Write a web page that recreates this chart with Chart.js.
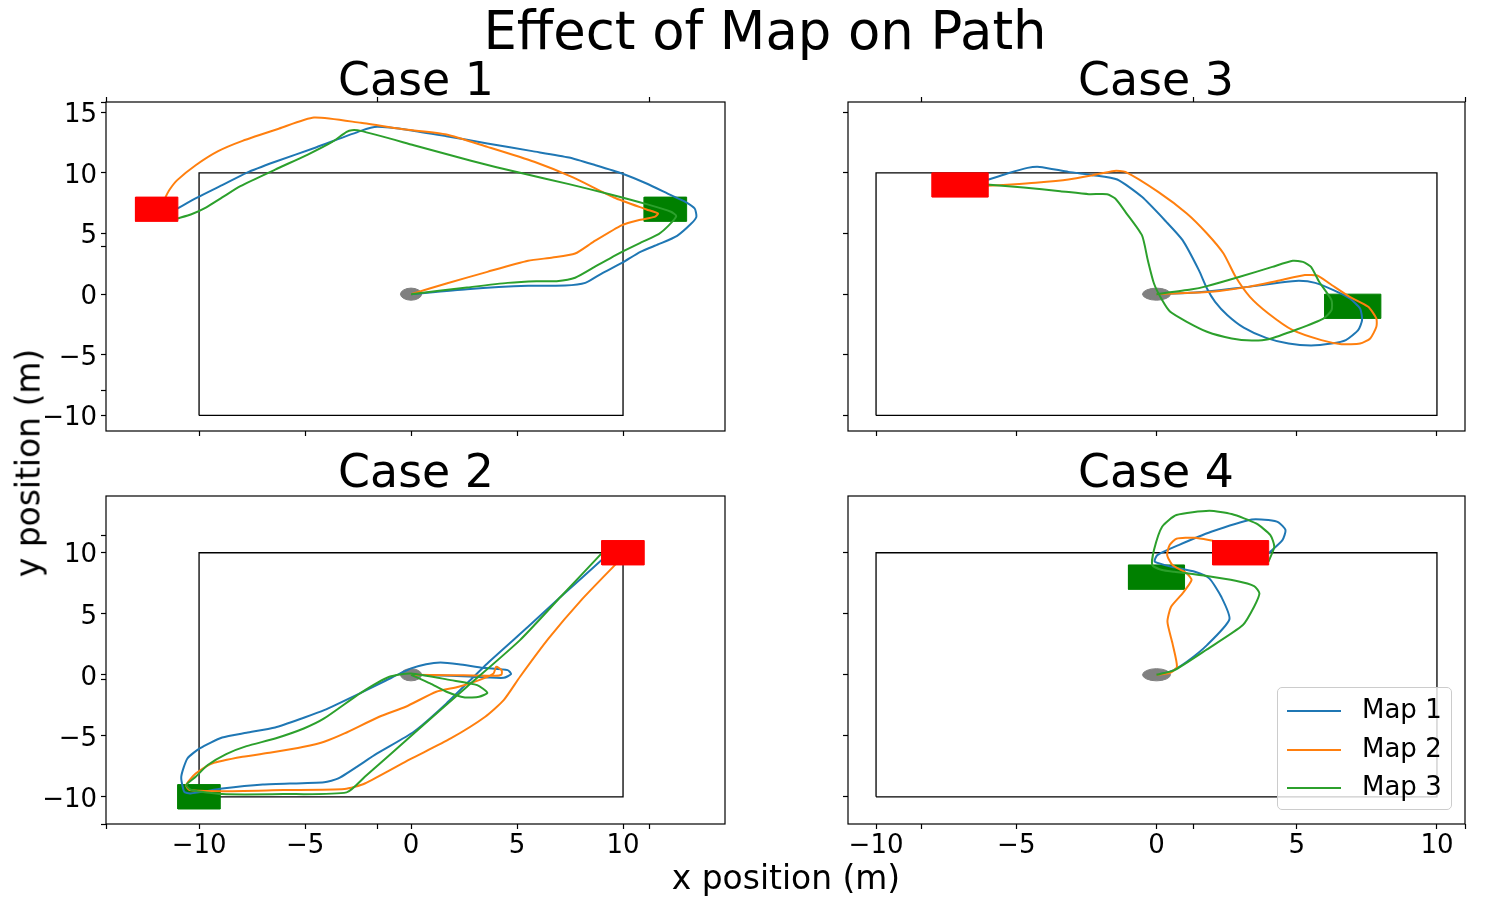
<!DOCTYPE html>
<html>
<head>
<meta charset="utf-8">
<title>Effect of Map on Path</title>
<script src="https://cdn.jsdelivr.net/npm/chart.js@4"></script>
<style>
  html, body { margin: 0; padding: 0; background: #fff; }
  body { position: relative; width: 1487px; height: 899px; overflow: hidden; font-family: "DejaVu Sans", sans-serif; color: #000; }
  canvas { position: absolute; }
  .txt { position: absolute; white-space: nowrap; line-height: 1; transform: translate(-50%, -50%); }
  #legend { position: absolute; left: 1277px; top: 687px; width: 175px; height: 123px; box-sizing: border-box;
            border: 1px solid #ccc; border-radius: 5px; background: rgba(255,255,255,0.8); }
  #legend .row { position: absolute; left: 0; font-size: 26px; line-height: 1; }
  #legend .swatch { position: absolute; left: 9px; width: 54px; height: 2px; }
  #legend .name { position: absolute; left: 84px; white-space: nowrap; }
</style>
</head>
<body>

<script>
const xTicks = [-10, -5, 0, 5, 10];
const yTicksTop = [-10, -5, 0, 5, 10, 15];
const yTicksBottom = [-10, -5, 0, 5, 10];
const overlayTicks = [0, 0.2, 0.4, 0.6, 0.8, 1];
const mapNames = ['Map 1', 'Map 2', 'Map 3'];
const mapColors = ['#1f77b4', '#ff7f0e', '#2ca02c'];

// arena outline and the start marker, in metres
const boundary = [[-10,-10],[10,-10],[10,10],[-10,10],[-10,-10]];
const startCircle = [[0.5,0],[0.46,0.19],[0.35,0.35],[0.19,0.46],[0,0.5],[-0.19,0.46],[-0.35,0.35],[-0.46,0.19],
  [-0.5,0],[-0.46,-0.19],[-0.35,-0.35],[-0.19,-0.46],[0,-0.5],[0.19,-0.46],[0.35,-0.35],[0.46,-0.19],[0.5,0]];

// goal / waypoint rectangles per case
const case1Red = [[-13,6],[-11,6],[-11,8],[-13,8],[-13,6]];
const case1Green = [[11,6],[13,6],[13,8],[11,8],[11,6]];
const case2Red = [[9,9],[11,9],[11,11],[9,11],[9,9]];
const case2Green = [[-11,-11],[-9,-11],[-9,-9],[-11,-9],[-11,-11]];
const case3Red = [[-8,8],[-6,8],[-6,10],[-8,10],[-8,8]];
const case3Green = [[6,-2],[8,-2],[8,0],[6,0],[6,-2]];
const case4Red = [[2,9],[4,9],[4,11],[2,11],[2,9]];
const case4Green = [[-1,7],[1,7],[1,9],[-1,9],[-1,7]];

// paths
const case1Map1 = [[0,0],[2.64,0.41],[5.52,0.69],[7.26,0.71],[8.22,0.93],[8.99,1.70],[9.95,2.58],[10.82,3.49],[11.68,4.12],[12.55,4.81],[13.22,5.82],[13.46,6.37],[13.38,7.06],[12.94,7.61],[12.26,8.16],[11.11,9.12],[9.95,9.95],[8.70,10.63],[7.45,11.26],[5.72,11.79],[3.60,12.42],[1.67,13.02],[-0.06,13.52],[-1.60,13.79],[-2.37,13.46],[-4.49,12.09],[-6.41,10.91],[-7.76,10.0],[-8.91,8.98],[-10.07,7.97],[-11.03,7.06]];
const case1Map2 = [[0,0],[1.67,0.88],[3.60,1.84],[5.52,2.75],[6.68,3.02],[7.74,3.35],[8.60,4.31],[9.95,5.69],[10.72,6.10],[11.49,6.37],[11.65,6.65],[11.11,6.98],[9.57,7.97],[7.64,9.62],[5.81,10.91],[3.60,12.14],[1.67,13.16],[-0.25,13.57],[-2.37,14.12],[-4.58,14.56],[-6.22,13.65],[-7.95,12.64],[-9.10,11.79],[-10.16,10.63],[-11.03,9.40],[-11.41,8.57],[-11.59,7.97]];
const case1Map3 = [[0,0],[2.64,0.55],[4.56,0.93],[5.91,1.07],[6.87,1.07],[7.74,1.35],[8.80,2.39],[9.95,3.49],[10.91,4.31],[11.68,4.95],[12.17,5.69],[12.51,6.43],[12.26,6.79],[11.11,7.42],[9.37,8.24],[7.45,9.07],[5.14,10.0],[2.83,10.99],[0.13,12.28],[-2.37,13.46],[-2.79,13.52],[-3.04,13.38],[-3.72,12.55],[-4.87,11.51],[-6.41,10.27],[-8.05,8.90],[-8.91,7.97],[-9.68,7.14],[-10.36,6.59],[-11.03,6.24]];

const case2Map1 = [[0,0],[1.87,-0.08],[3.60,-0.22],[4.37,-0.25],[4.72,0.05],[4.56,0.38],[3.41,0.57],[2.25,0.87],[1.39,1.01],[0.71,0.87],[0,0.52],[-1.21,-0.49],[-2.37,-1.48],[-4.10,-2.90],[-5.06,-3.52],[-6.41,-4.32],[-7.76,-4.75],[-8.91,-5.14],[-9.97,-6.04],[-10.55,-6.86],[-10.84,-8.36],[-10.70,-9.59],[-10.41,-9.73],[-8.91,-9.32],[-6.99,-8.99],[-4.10,-8.80],[-3.43,-8.50],[-1.60,-6.45],[0.13,-4.67],[1.67,-2.35],[3.60,0.93],[5.52,3.93],[7.06,6.39],[8.99,9.40]];
const case2Map2 = [[0,0],[1.87,-0.03],[3.98,-0.08],[4.27,0.03],[4.27,0.38],[4.02,0.66],[3.89,0.11],[3.21,-0.44],[2.25,-0.98],[1.19,-1.39],[-0.25,-2.62],[-1.50,-3.44],[-3.14,-4.81],[-4.10,-5.49],[-5.06,-5.90],[-6.60,-6.37],[-7.95,-6.72],[-9.39,-7.27],[-10.16,-8.09],[-10.61,-9.04],[-10.45,-9.45],[-8.91,-9.54],[-6.02,-9.45],[-3.14,-9.37],[-2.18,-8.91],[-0.06,-6.94],[1.87,-5.22],[3.50,-3.44],[4.37,-2.08],[5.14,-0.16],[6.49,2.98],[8.03,6.12],[9.66,9.07]];
const case2Map3 = [[0,0],[0.90,-0.71],[1.67,-1.39],[2.54,-1.86],[3.21,-1.80],[3.60,-1.48],[3.12,-0.85],[1.87,-0.44],[0,0.11],[-1.02,-0.16],[-2.37,-1.48],[-4.10,-3.58],[-5.06,-4.40],[-6.41,-5.22],[-7.76,-5.85],[-8.72,-6.50],[-9.59,-7.40],[-10.16,-8.36],[-10.61,-9.04],[-10.36,-9.45],[-8.91,-9.78],[-6.02,-9.78],[-3.04,-9.64],[-2.18,-8.36],[0.13,-4.81],[2.64,-0.98],[5.14,2.84],[7.06,6.39],[8.99,9.95]];

const case3Map1 = [[0,0],[1.22,0.11],[2.24,0.33],[3.26,0.60],[4.42,0.96],[5.08,1.10],[5.66,0.93],[6.31,0.33],[6.89,-0.36],[7.26,-1.18],[7.33,-2.14],[7.19,-2.97],[6.75,-3.79],[6.24,-4.07],[5.51,-4.23],[4.71,-4.07],[3.91,-3.60],[3.11,-2.75],[2.53,-1.73],[2.09,-0.63],[1.80,0.47],[1.51,1.98],[0.93,4.45],[0.35,5.96],[-0.52,8.02],[-1.40,9.45],[-2.27,9.81],[-3.14,10.08],[-4.16,10.49],[-4.60,10.41],[-5.32,9.95],[-6.05,9.40]];
const case3Map2 = [[0,0],[1.22,0.11],[2.24,0.27],[3.26,0.60],[4.42,1.15],[5.29,1.57],[5.73,1.54],[6.17,0.88],[6.89,-0.22],[7.55,-1.04],[7.84,-2.01],[7.84,-2.69],[7.62,-3.65],[7.26,-4.07],[6.60,-4.12],[5.88,-3.79],[4.86,-2.97],[3.99,-1.59],[3.33,-0.22],[2.82,1.43],[2.39,3.35],[1.80,5.0],[1.08,6.65],[0.06,8.43],[-1.11,10.08],[-1.51,10.16],[-2.27,9.81],[-3.14,9.45],[-4.31,9.18],[-5.18,9.04],[-6.05,8.93]];
const case3Map3 = [[0,0],[1.22,0.38],[1.80,0.66],[2.97,1.43],[4.13,2.25],[4.86,2.75],[5.22,2.66],[5.51,2.25],[5.80,1.02],[6.24,-0.49],[6.24,-1.32],[5.95,-2.01],[5.0,-2.91],[3.99,-3.71],[3.40,-3.82],[2.68,-3.65],[1.80,-3.10],[1.08,-2.28],[0.49,-1.46],[0.20,-0.49],[-0.09,0.88],[-0.31,2.80],[-0.52,4.86],[-1.11,6.79],[-1.47,7.88],[-1.76,8.24],[-2.41,8.24],[-3.43,8.49],[-4.74,8.79],[-6.05,9.04]];

const case4Map1 = [[0,0],[0.49,0.25],[1.08,1.07],[1.80,2.43],[2.60,4.54],[2.31,6.39],[1.88,7.90],[1.37,8.44],[0.64,8.80],[-0.06,9.26],[0.03,9.81],[0.79,10.63],[1.95,11.72],[3.40,12.73],[3.99,12.68],[4.35,12.49],[4.60,11.86],[4.49,11.04],[3.99,9.95]];
const case4Map2 = [[0,0],[0.49,0.16],[0.73,0.66],[0.57,2.57],[0.39,4.34],[0.52,5.57],[0.93,6.67],[1.25,7.76],[1.08,8.31],[0.57,8.99],[0.38,9.81],[0.47,10.63],[0.71,11.15],[1.37,11.23],[2.02,10.98]];
const case4Map3 = [[0,0],[0.64,0.38],[1.80,2.08],[3.08,4.07],[3.48,5.57],[3.67,6.67],[3.48,7.27],[2.82,7.70],[1.80,8.09],[0.64,8.44],[0.20,8.58],[-0.15,8.99],[-0.09,10.22],[0.20,12.13],[0.71,13.09],[1.88,13.44],[2.68,13.17],[3.55,12.40],[4.06,11.45],[4.20,10.49],[3.99,9.26]];

const toPoints = pairs => pairs.map(p => ({ x: p[0], y: p[1] }));
const minusSign = v => String(v).replace('-', '\u2212');

const PAD = 20, Y_W = 66, X_H = 46;

function addText(text, x, y, size, rotate) {
  const el = document.createElement('div');
  el.className = 'txt';
  el.textContent = text;
  el.style.left = x + 'px';
  el.style.top = y + 'px';
  el.style.fontSize = size + 'px';
  if (rotate) el.style.transform = 'translate(-50%, -50%) rotate(-90deg)';
  document.body.appendChild(el);
}

function addCanvas(left, top, width, height) {
  const c = document.createElement('canvas');
  c.width = width;
  c.height = height;
  c.style.left = left + 'px';
  c.style.top = top + 'px';
  c.style.width = width + 'px';
  c.style.height = height + 'px';
  document.body.appendChild(c);
  return c.getContext('2d');
}

// draws the box round the axes, chart.js only gives one side per scale
const framePlugin = {
  id: 'frame',
  afterDatasetsDraw(chart) {
    const a = chart.chartArea, ctx = chart.ctx;
    ctx.save();
    ctx.strokeStyle = '#000';
    ctx.lineWidth = 1.2;
    ctx.strokeRect(a.left, a.top, a.right - a.left, a.bottom - a.top);
    ctx.restore();
  }
};

function drawPanel(p) {
  const ctx = addCanvas(p.left - Y_W - PAD, p.top - PAD, p.width + Y_W + 2 * PAD, p.height + X_H + 2 * PAD);
  const shape = (pairs, color, order) => ({
    data: toPoints(pairs), showLine: true, pointRadius: 0, borderWidth: 1,
    borderColor: color, backgroundColor: color, fill: 'shape', tension: 0, order
  });
  const paths = p.paths.map((pairs, i) => ({
    label: mapNames[i], data: toPoints(pairs), showLine: true, pointRadius: 0, borderWidth: 2,
    borderColor: mapColors[i], fill: false, tension: 0.2, order: 3 - i
  }));
  new Chart(ctx, {
    type: 'scatter',
    data: {
      datasets: [
        { data: toPoints(boundary), showLine: true, pointRadius: 0, borderWidth: 1.3, borderColor: '#000', fill: false, order: 7 },
        shape(p.green, '#008000', 6),
        shape(startCircle, '#808080', 5),
        ...paths,
        shape(p.red, '#ff0000', 0)
      ]
    },
    options: {
      responsive: false,
      animation: false,
      events: [],
      layout: { padding: PAD },
      plugins: { legend: { display: false }, tooltip: { enabled: false } },
      scales: {
        x: {
          min: p.xMin, max: p.xMax,
          afterBuildTicks: s => { s.ticks = xTicks.map(v => ({ value: v })); },
          afterFit: s => { s.height = X_H; },
          grid: { drawOnChartArea: false, tickLength: 5, color: '#000', tickWidth: 1.2 },
          border: { display: false },
          ticks: { display: p.xLabels, color: '#000', font: { family: 'DejaVu Sans', size: 26 }, padding: 2, maxRotation: 0, autoSkip: false, callback: minusSign }
        },
        y: {
          min: p.yMin, max: p.yMax,
          afterBuildTicks: s => { s.ticks = p.yTicks.map(v => ({ value: v })); },
          afterFit: s => { s.width = Y_W; },
          grid: { drawOnChartArea: false, tickLength: 5, color: '#000', tickWidth: 1.2 },
          border: { display: false },
          ticks: { display: p.yLabels, color: '#000', font: { family: 'DejaVu Sans', size: 26 }, padding: 4, labelOffset: 3, autoSkip: false, callback: minusSign }
        }
      }
    },
    plugins: [framePlugin]
  });
}

// the extra tick marks of the empty axes that spans all four panels
function drawOverlay(left, top, width, height) {
  const ctx = addCanvas(left - 10 - PAD, top - 10 - PAD, width + 10 + 2 * PAD, height + 20 + 2 * PAD);
  const tickGrid = { drawOnChartArea: false, tickLength: 5, color: '#000', tickWidth: 1.2 };
  const setTicks = s => { s.ticks = overlayTicks.map(v => ({ value: v })); };
  new Chart(ctx, {
    type: 'scatter',
    data: { datasets: [] },
    options: {
      responsive: false,
      animation: false,
      events: [],
      layout: { padding: PAD },
      plugins: { legend: { display: false }, tooltip: { enabled: false } },
      scales: {
        x: { min: 0, max: 1, position: 'bottom', afterBuildTicks: setTicks, afterFit: s => { s.height = 10; }, grid: tickGrid, border: { display: false }, ticks: { display: false } },
        xTop: { axis: 'x', min: 0, max: 1, position: 'top', afterBuildTicks: setTicks, afterFit: s => { s.height = 10; }, grid: tickGrid, border: { display: false }, ticks: { display: false } },
        y: { min: 0, max: 1, afterBuildTicks: setTicks, afterFit: s => { s.width = 10; }, grid: tickGrid, border: { display: false }, ticks: { display: false } }
      }
    }
  });
}

const leftX = { left: 106, width: 619, xMin: -14.39, xMax: 14.81 };
const rightX = { left: 848, width: 617, xMin: -11, xMax: 11 };
const topY = { top: 102, height: 329, yMin: -11.28, yMax: 15.84, yTicks: yTicksTop };
const bottomY = { top: 496, height: 328, yMin: -12.23, yMax: 14.65, yTicks: yTicksBottom };

drawPanel({ ...leftX, ...topY, xLabels: false, yLabels: true, paths: [case1Map1, case1Map2, case1Map3], red: case1Red, green: case1Green });
drawPanel({ ...rightX, ...topY, xLabels: false, yLabels: false, paths: [case3Map1, case3Map2, case3Map3], red: case3Red, green: case3Green });
drawPanel({ ...leftX, ...bottomY, xLabels: true, yLabels: true, paths: [case2Map1, case2Map2, case2Map3], red: case2Red, green: case2Green });
drawPanel({ ...rightX, ...bottomY, xLabels: true, yLabels: false, paths: [case4Map1, case4Map2, case4Map3], red: case4Red, green: case4Green });
drawOverlay(106, 102, 1359, 722);

addText('Effect of Map on Path', 765, 31, 52.8);
addText('Case 1', 416, 79.5, 45.8);
addText('Case 3', 1156, 79.5, 45.8);
addText('Case 2', 416, 471.5, 45.8);
addText('Case 4', 1156, 471.5, 45.8);
addText('x position (m)', 786, 878, 32.9);
addText('y position (m)', 29, 463, 32.9, true);

// legend box sits inside the Case 4 axes
const legend = document.createElement('div');
legend.id = 'legend';
mapNames.forEach((name, i) => {
  const row = document.createElement('div');
  row.className = 'row';
  row.style.top = (22 + i * 38.5) + 'px';
  const swatch = document.createElement('span');
  swatch.className = 'swatch';
  swatch.style.background = mapColors[i];
  swatch.style.top = '0px';
  const label = document.createElement('span');
  label.className = 'name';
  label.style.top = '-14px';
  label.textContent = name;
  row.appendChild(swatch);
  row.appendChild(label);
  legend.appendChild(row);
});
document.body.appendChild(legend);
</script>
</body>
</html>
